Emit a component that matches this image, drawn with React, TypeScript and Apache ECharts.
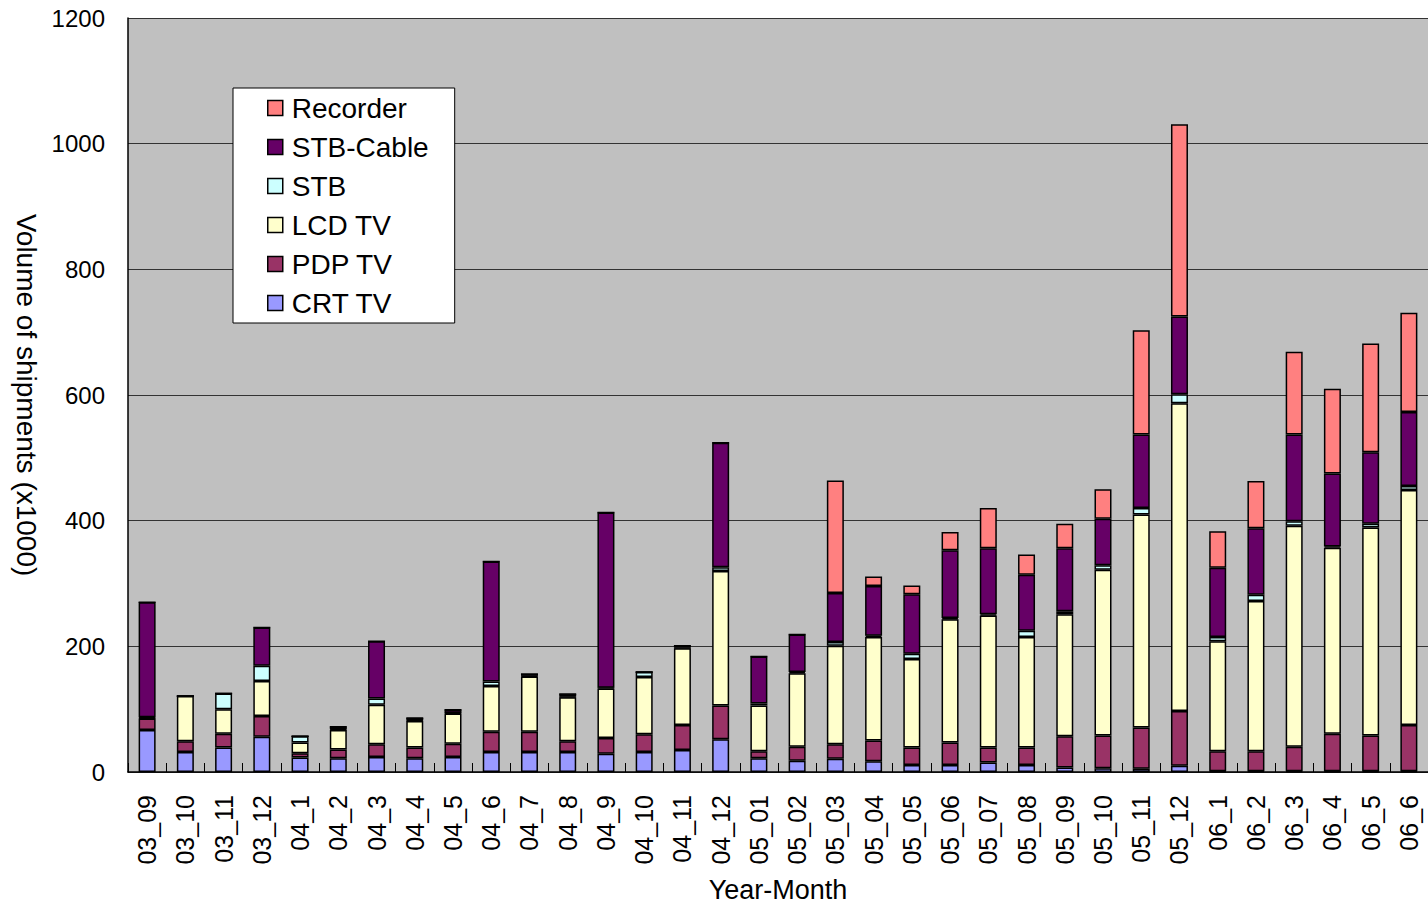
import React, { useEffect, useRef } from "react";
import * as echarts from "echarts";

const categories = ["03_09","03_10","03_11","03_12","04_1","04_2","04_3","04_4","04_5","04_6","04_7","04_8","04_9","04_10","04_11","04_12","05_01","05_02","05_03","05_04","05_05","05_06","05_07","05_08","05_09","05_10","05_11","05_12","06_1","06_2","06_3","06_4","06_5","06_6"];

const crtTV = [67,32,39,56,23,22,24,22,24,32,32,32,29,32,35,52,22,18,21,17,11,11,15,11,7,6,5,10,1,1,1,1,1,1];
const pdpTV = [18,17,22,33,7,14,20,17,21,32,32,17,25,28,40,54,11,22,23,33,28,36,24,28,50,52,66,87,32,32,39,60,57,74];
const lcdTV = [1,72,39,56,17,31,63,42,48,73,88,70,79,91,122,214,73,117,157,165,141,196,210,176,194,264,339,490,175,239,352,296,331,374];
const stb = [1,0,25,24,10,1,10,1,1,7,1,1,1,8,1,6,3,2,6,2,8,2,2,10,5,7,10,14,7,10,7,2,6,6];
const stbCable = [183,0,0,61,0,4,91,4,5,191,3,4,279,0,3,198,75,60,78,79,95,108,105,89,100,74,117,124,110,106,138,116,114,118];
const recorder = [0,0,0,0,0,0,0,0,0,0,0,0,0,0,0,0,0,0,179,15,14,29,64,32,39,47,166,306,58,75,132,135,173,158];

const yTicks = [0, 200, 400, 600, 800, 1000, 1200];
const legendOrder = ["Recorder", "STB-Cable", "STB", "LCD TV", "PDP TV", "CRT TV"];

const seriesDefs = [
  { name: "CRT TV", data: crtTV, color: "#9999FF" },
  { name: "PDP TV", data: pdpTV, color: "#993366" },
  { name: "LCD TV", data: lcdTV, color: "#FFFFCC" },
  { name: "STB", data: stb, color: "#CCFFFF" },
  { name: "STB-Cable", data: stbCable, color: "#660066" },
  { name: "Recorder", data: recorder, color: "#FF8080" },
];

const FONT = "'Liberation Sans', Arial, sans-serif";

export default function App() {
  const ref = useRef<HTMLDivElement>(null);
  useEffect(() => {
    document.body.style.margin = "0";
    if (!ref.current) return;
    const chart = echarts.init(ref.current, undefined, { renderer: "svg" });
    chart.setOption({
      animation: false,
      backgroundColor: "#ffffff",
      textStyle: { fontFamily: FONT, color: "#000" },
      grid: {
        left: 128,
        right: 0,
        top: 18,
        bottom: 133,
        show: true,
        backgroundColor: "#C0C0C0",
        borderWidth: 0,
        outerBoundsMode: "none",
        containLabel: false,
      },
      legend: {
        data: legendOrder,
        orient: "vertical",
        left: 233,
        top: 88,
        backgroundColor: "#ffffff",
        borderColor: "#000",
        borderWidth: 1,
        padding: [6, 26, 6, 34],
        itemWidth: 15,
        itemHeight: 15,
        itemGap: 11,
        icon: "rect",
        itemStyle: { borderColor: "#000", borderWidth: 1.5 },
        textStyle: { fontSize: 28, color: "#000", fontFamily: FONT, lineHeight: 28, padding: [0, 0, 0, 4] },
      },
      xAxis: {
        type: "category",
        data: categories,
        name: "Year-Month",
        nameLocation: "middle",
        nameGap: 104,
        nameTextStyle: { fontSize: 27, color: "#000", fontFamily: FONT, lineHeight: 27 },
        axisLine: { lineStyle: { color: "#000", width: 1.5 } },
        axisTick: { show: true, inside: true, length: 9, lineStyle: { color: "#000" } },
        axisLabel: { rotate: 90, fontSize: 25, color: "#000", margin: 23, fontFamily: FONT, interval: 0 },
      },
      yAxis: {
        type: "value",
        min: yTicks[0],
        max: yTicks[yTicks.length - 1],
        interval: 200,
        name: "Volume of shipments (x1000)",
        nameLocation: "middle",
        nameRotate: -90,
        nameGap: 88,
        nameTextStyle: { fontSize: 28, color: "#000", fontFamily: FONT },
        axisLine: { show: true, lineStyle: { color: "#000", width: 1.5 } },
        axisTick: { show: false },
        axisLabel: { fontSize: 24, color: "#000", margin: 23, fontFamily: FONT, formatter: (v: number) => String(v) },
        splitLine: { show: true, lineStyle: { color: "#333", width: 1 } },
      },
      series: seriesDefs.map((s) => ({
        name: s.name,
        type: "bar",
        stack: "total",
        data: s.data,
        barWidth: 17,
        itemStyle: { color: s.color, borderColor: "#000", borderWidth: 1.5 },
      })),
    });
    return () => chart.dispose();
  }, []);
  return <div ref={ref} style={{ width: 1428, height: 905 }} />;
}
